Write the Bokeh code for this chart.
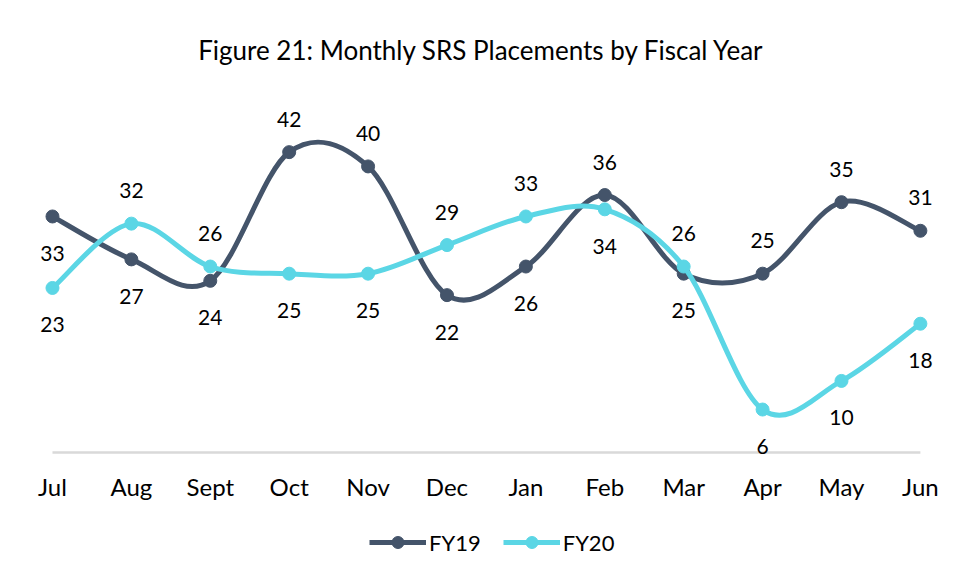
from bokeh.plotting import figure
from bokeh.layouts import column
from bokeh.models import Range1d, FixedTicker, Legend, LegendItem, ColumnDataSource
from bokeh.core.properties import value
from bokeh.embed import file_html
from bokeh.resources import INLINE

months = ["Jul", "Aug", "Sept", "Oct", "Nov", "Dec", "Jan", "Feb", "Mar", "Apr", "May", "Jun"]
fy19 = [33, 27, 24, 42, 40, 22, 26, 36, 25, 25, 35, 31]
fy20 = [23, 32, 26, 25, 25, 29, 33, 34, 26, 6, 10, 18]
fy19_label_pos = ["below", "below", "below", "above", "above", "below",
                  "below", "above", "below", "above", "above", "above"]
fy20_label_pos = ["below", "above", "above", "below", "below", "above",
                  "above", "below", "above", "below", "below", "below"]
series_names = ["FY19", "FY20"]

C19 = "#44546A"
C20 = "#5BD6E5"
FONT = "Lato"

p = figure(frame_width=930, frame_height=360, output_backend="svg", toolbar_location=None,
           x_range=Range1d(-0.456, 11.331), y_range=Range1d(-0.57, 49.78),
           y_axis_location=None, min_border_left=16, min_border_right=8,
           min_border_top=95, min_border_bottom=60)
p.outline_line_color = None
p.xgrid.visible = False
p.ygrid.visible = False

p.title.text = "Figure 21: Monthly SRS Placements by Fiscal Year"
p.title.align = "center"
p.title.text_font = FONT
p.title.text_font_size = "26px"
p.title.text_font_style = "normal"
p.title.text_color = "#000000"
p.title.standoff = 62

xs = list(range(len(months)))
p.xaxis.ticker = FixedTicker(ticks=xs)
p.xaxis.major_label_overrides = {i: m for i, m in enumerate(months)}
p.xaxis.axis_line_color = None
p.xaxis.major_tick_line_color = None
p.xaxis.minor_tick_line_color = None
p.xaxis.major_tick_out = 0
p.xaxis.major_tick_in = 0
p.xaxis.major_label_text_font = FONT
p.xaxis.major_label_text_font_size = "24px"
p.xaxis.major_label_text_color = "#000000"
p.xaxis.major_label_standoff = 15

# baseline
p.segment(x0=[xs[0]], y0=[0], x1=[xs[-1]], y1=[0], line_color="#D9D9D9", line_width=2.5)


def smooth(ys):
    n = len(ys)
    pts = list(zip(xs, ys))
    x0, y0, x1, y1, cx0, cy0, cx1, cy1 = [], [], [], [], [], [], [], []
    for i in range(n - 1):
        pm = pts[i - 1] if i > 0 else pts[i]
        pa = pts[i]
        pb = pts[i + 1]
        pn = pts[i + 2] if i + 2 < n else pts[i + 1]
        x0.append(pa[0]); y0.append(pa[1]); x1.append(pb[0]); y1.append(pb[1])
        cx0.append(pa[0] + (pb[0] - pm[0]) / 6); cy0.append(pa[1] + (pb[1] - pm[1]) / 6)
        cx1.append(pb[0] - (pn[0] - pa[0]) / 6); cy1.append(pb[1] - (pn[1] - pa[1]) / 6)
    return dict(x0=x0, y0=y0, x1=x1, y1=y1, cx0=cx0, cy0=cy0, cx1=cx1, cy1=cy1)


for ys, pos, col in [(fy19, fy19_label_pos, C19), (fy20, fy20_label_pos, C20)]:
    p.bezier(source=ColumnDataSource(smooth(ys)), x0="x0", y0="y0", x1="x1", y1="y1",
             cx0="cx0", cy0="cy0", cx1="cx1", cy1="cy1", line_color=col, line_width=5)
    p.scatter(xs, ys, size=13, fill_color=col, line_color=col)
    lsrc = ColumnDataSource(dict(x=xs, y=ys, t=[str(v) for v in ys],
                                 off=[-33 if q == "above" else 37 for q in pos]))
    p.text(x="x", y="y", text="t", y_offset="off", source=lsrc, text_align="center",
           text_baseline="middle", text_font=value(FONT), text_font_size="21px",
           text_color="#000000")

# legend strip (separate small figure below the chart)
q = figure(width=954, height=52, output_backend="svg", toolbar_location=None,
           x_range=Range1d(0, 1), y_range=Range1d(0, 1),
           x_axis_location=None, y_axis_location=None, min_border=0)
q.outline_line_color = None
q.xgrid.visible = False
q.ygrid.visible = False
items = []
for name, col in zip(series_names, [C19, C20]):
    lg = q.line(x=[-2, -1], y=[-2, -2], line_color=col, line_width=5)
    sc = q.scatter(x=[-2], y=[-2], size=13, fill_color=col, line_color=col)
    items.append(LegendItem(label=name, renderers=[lg, sc]))
legend = Legend(items=items, orientation="horizontal", location=(353, 11),
                glyph_width=57, glyph_height=30, label_standoff=3, spacing=22,
                label_text_font=FONT, label_text_font_size="22px", label_text_color="#000000",
                border_line_color=None, background_fill_alpha=0, padding=0, margin=0)
q.add_layout(legend)

open("out.html", "w").write(file_html(column(p, q, spacing=0), INLINE))
